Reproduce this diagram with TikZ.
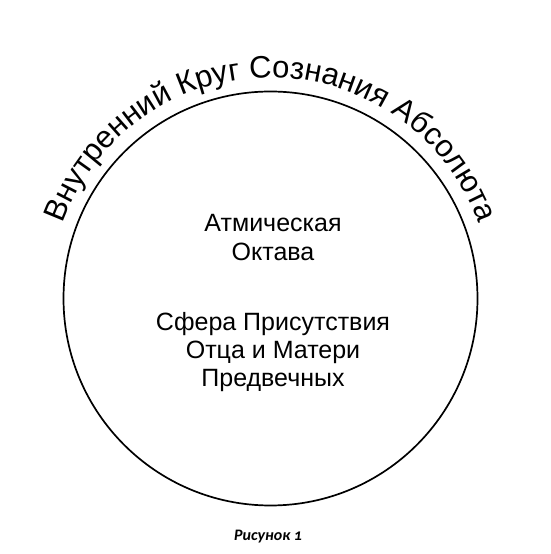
\documentclass[tikz,border=0pt]{standalone}
\usepackage{fontspec}
\setmainfont{Liberation Sans}
\newfontfamily\capfont[Numbers=OldStyle]{Carlito}
\usetikzlibrary{decorations.text}
\newcommand{\arcfont}{\fontsize{31}{35}\selectfont}
\tikzset{
  body/.style={anchor=base, inner sep=0pt, font=\fontsize{25}{29}\selectfont},
  ring/.style={draw=black, line width=1.7pt},
}
\begin{document}
\begin{tikzpicture}[x=1pt,y=1pt]
\useasboundingbox (0,0) rectangle (550,554);
\coordinate (c) at (270.5,255.5);
\node[ring, circle, minimum size=414pt, inner sep=0pt] (circ) at (c) {};
\path[decorate, decoration={text along path, text align=center,
  text={|\arcfont|Внутренний Круг Сознания Абсолюта}}]
  ([shift={(180:221)}]c) arc[start angle=180, end angle=0, radius=221];
\node[body] (l1) at (273,322) {Атмическая};
\node[body] (l2) at (273,293) {Октава};
\node[body] (l3) at (273,223) {Сфера Присутствия};
\node[body] (l4) at (273,195) {Отца и Матери};
\node[body] (l5) at (273,167) {Предвечных};
\node[anchor=base, inner sep=0pt, font=\capfont\bfseries\itshape\fontsize{16}{19}\selectfont] (cap) at (268,13) {Рисунок 1};
\end{tikzpicture}
\end{document}
